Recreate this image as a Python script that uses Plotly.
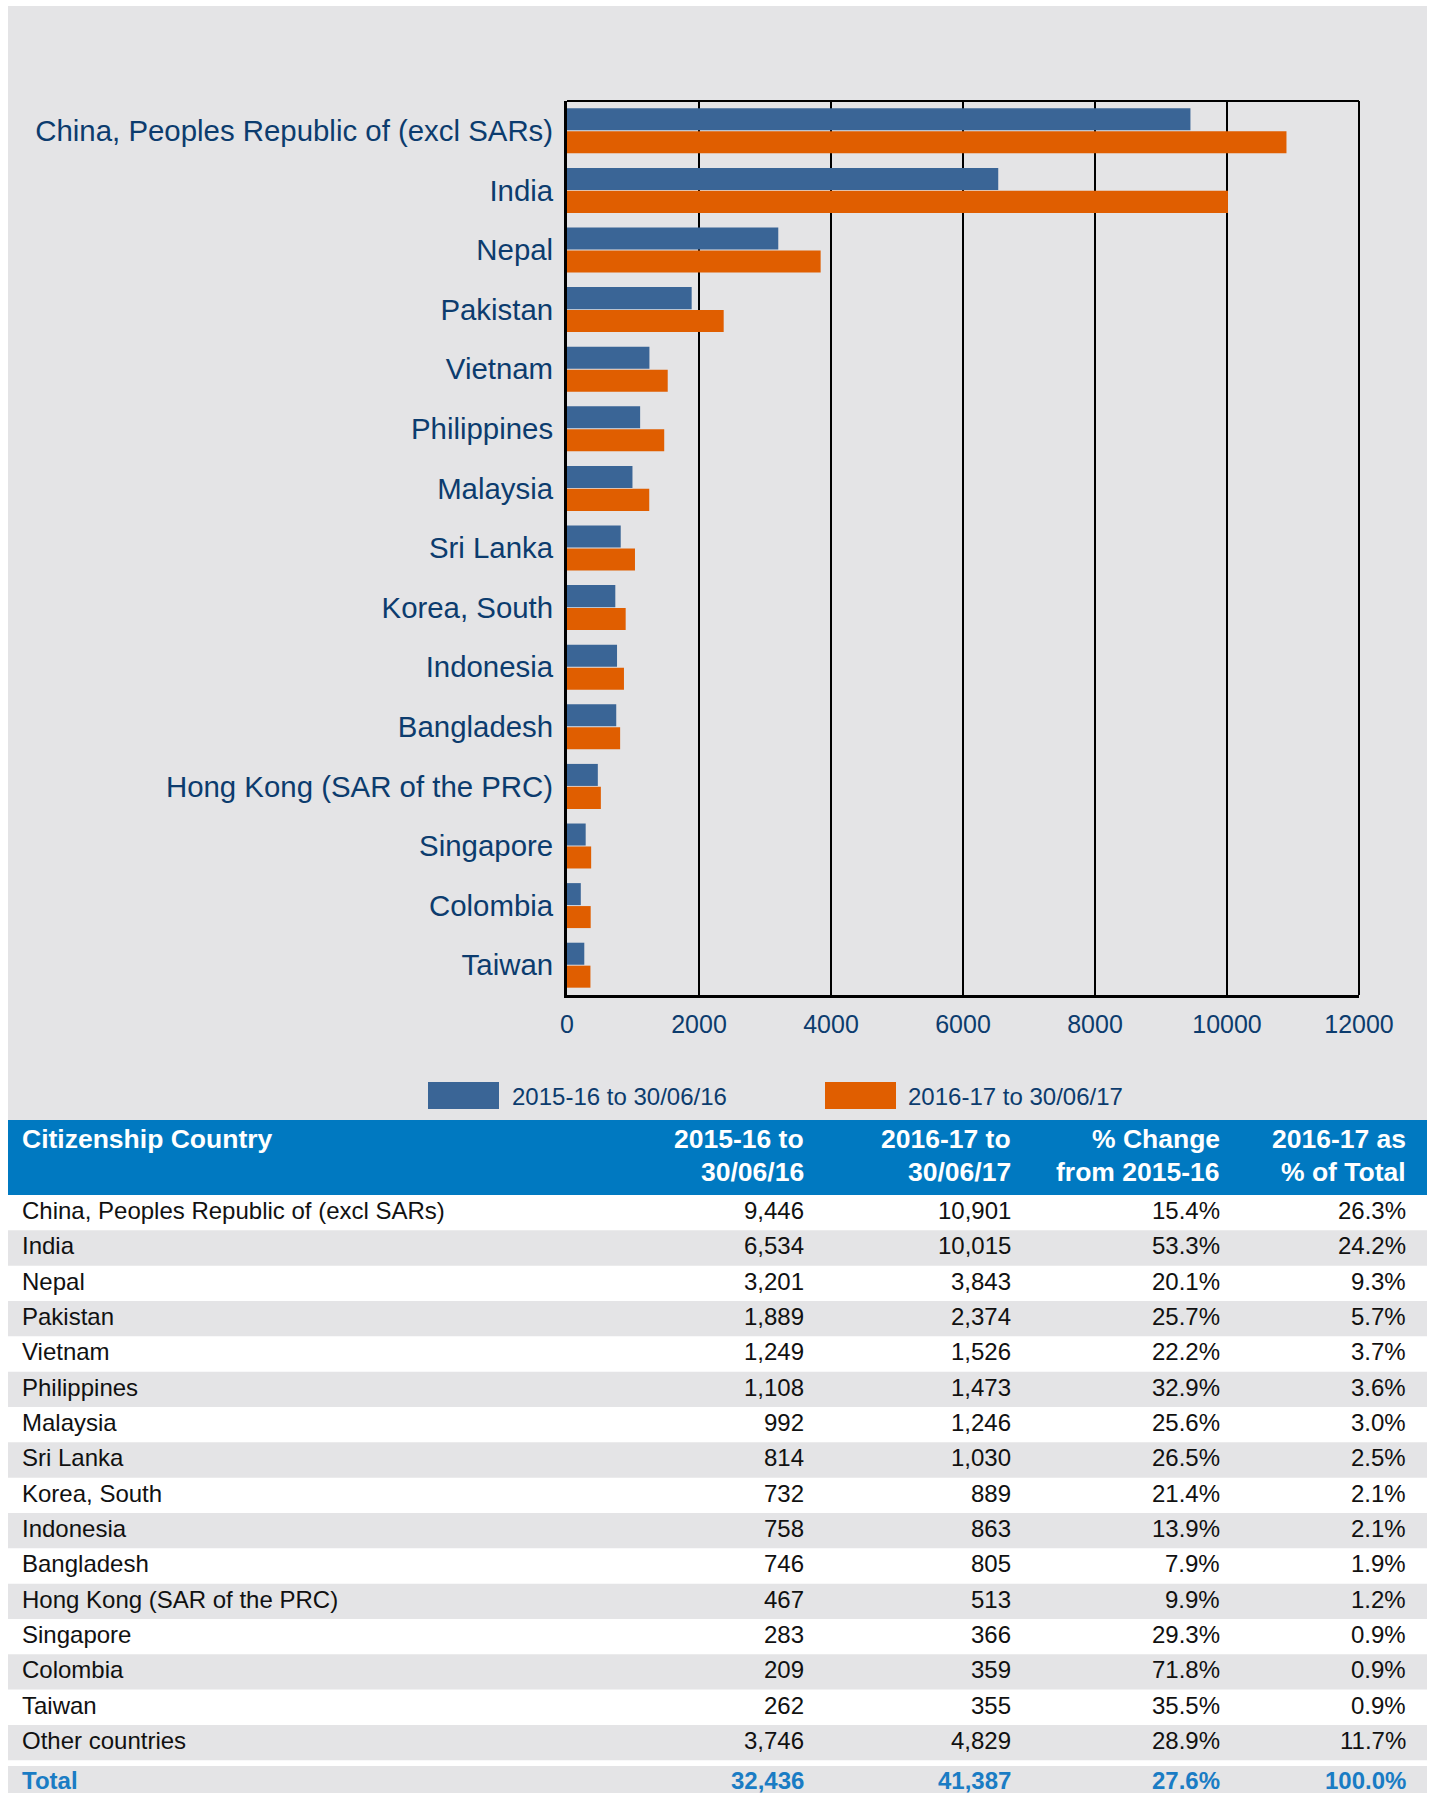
import plotly.graph_objects as go

# ---------------- data ----------------
countries = [
    "China, Peoples Republic of (excl SARs)", "India", "Nepal", "Pakistan", "Vietnam",
    "Philippines", "Malaysia", "Sri Lanka", "Korea, South", "Indonesia", "Bangladesh",
    "Hong Kong (SAR of the PRC)", "Singapore", "Colombia", "Taiwan",
]
v_1516 = [9446, 6534, 3201, 1889, 1249, 1108, 992, 814, 732, 758, 746, 467, 283, 209, 262]
v_1617 = [10901, 10015, 3843, 2374, 1526, 1473, 1246, 1030, 889, 863, 805, 513, 366, 359, 355]
pct_change = [15.4, 53.3, 20.1, 25.7, 22.2, 32.9, 25.6, 26.5, 21.4, 13.9, 7.9, 9.9, 29.3, 71.8, 35.5]
pct_total = [26.3, 24.2, 9.3, 5.7, 3.7, 3.6, 3.0, 2.5, 2.1, 2.1, 1.9, 1.2, 0.9, 0.9, 0.9]
other_row = ["Other countries", 3746, 4829, 28.9, 11.7]
total_row = ["Total", 32436, 41387, 27.6, 100.0]
series_names = ["2015-16 to 30/06/16", "2016-17 to 30/06/17"]
header_cols = [["Citizenship Country", ""], ["2015-16 to", "30/06/16"], ["2016-17 to", "30/06/17"],
               ["% Change", "from 2015-16"], ["2016-17 as", "% of Total"]]
x_ticks = [0, 2000, 4000, 6000, 8000, 10000, 12000]

# ---------------- style ----------------
W, H = 1430, 1793
PL, PR, PT, PB = 567, 1359, 101, 995
BLUE = "#3a6596"
ORANGE = "#e05e00"
NAVY = "#0c3c6e"
PANEL = "#e4e4e6"
HEAD = "#0079c1"
TOTAL_C = "#1a7cc4"
FONT = "Liberation Sans, Arial, sans-serif"


def px(x):
    return (x - PL) / (PR - PL)


def py(y):
    return (PB - y) / (PB - PT)


fig = go.Figure()
fig.add_trace(go.Bar(y=countries, x=v_1516, orientation="h", name=series_names[0],
                     marker=dict(color=BLUE, line=dict(width=0))))
fig.add_trace(go.Bar(y=countries, x=v_1617, orientation="h", name=series_names[1],
                     marker=dict(color=ORANGE, line=dict(width=0))))

shapes = []
annotations = []

# gray panel behind chart
shapes.append(dict(type="rect", xref="paper", yref="paper", x0=px(8), x1=px(1427), y0=py(1120), y1=py(6),
                   fillcolor=PANEL, line=dict(width=0), layer="below"))
# top and right frame lines
shapes.append(dict(type="line", xref="paper", yref="paper", x0=0, x1=1, y0=1, y1=1,
                   line=dict(color="black", width=2)))
shapes.append(dict(type="line", xref="paper", yref="paper", x0=1, x1=1, y0=0, y1=1,
                   line=dict(color="black", width=2)))

# custom legend
leg = [(428, 499, 512, BLUE, series_names[0]), (825, 896, 908, ORANGE, series_names[1])]
for x0, x1, tx, col, name in leg:
    shapes.append(dict(type="rect", xref="paper", yref="paper", x0=px(x0), x1=px(x1), y0=py(1109), y1=py(1082),
                       fillcolor=col, line=dict(width=0)))
    annotations.append(dict(xref="paper", yref="paper", x=px(tx - 2), y=py(1096), text=name, showarrow=False,
                            xanchor="left", yanchor="middle", font=dict(size=24, color=NAVY, family=FONT)))

# ---------------- table ----------------
TL, TR = 8, 1427
HEAD_TOP, HEAD_BOT = 1120, 1195
ROW_H = 35.33
col_right = [None, 804, 1011, 1220, 1406]
col_left = 23

shapes.append(dict(type="rect", xref="paper", yref="paper", x0=px(TL), x1=px(TR), y0=py(HEAD_BOT), y1=py(HEAD_TOP),
                   fillcolor=HEAD, line=dict(width=0)))
line_y = [1139, 1172]
for ci, lines in enumerate(header_cols):
    for li, txt in enumerate(lines):
        if not txt:
            continue
        if ci == 0:
            annotations.append(dict(xref="paper", yref="paper", x=px(col_left - 3), y=py(line_y[li]), text="<b>%s</b>" % txt,
                                    showarrow=False, xanchor="left", yanchor="middle",
                                    font=dict(size=26.5, color="white", family=FONT)))
        else:
            annotations.append(dict(xref="paper", yref="paper", x=px(col_right[ci] + 2), y=py(line_y[li]), text="<b>%s</b>" % txt,
                                    showarrow=False, xanchor="right", yanchor="middle",
                                    font=dict(size=26.5, color="white", family=FONT)))

rows = [[c, a, b, p, t] for c, a, b, p, t in zip(countries, v_1516, v_1617, pct_change, pct_total)]
rows.append(other_row)
rows.append(total_row)

for ri, row in enumerate(rows):
    is_total = ri == len(rows) - 1
    if is_total:
        top = 1766
    else:
        top = HEAD_BOT + ROW_H * ri
    bot = top + ROW_H
    if ri % 2 == 1 or is_total:
        shapes.append(dict(type="rect", xref="paper", yref="paper", x0=px(TL), x1=px(TR), y0=py(bot), y1=py(top),
                           fillcolor=PANEL, line=dict(width=0), layer="below"))
    cy = 1780 if is_total else (top + bot) / 2 - 2
    name, a, b, p, t = row
    cells = [name, f"{a:,}", f"{b:,}", f"{p:.1f}%", f"{t:.1f}%"]
    color = TOTAL_C if is_total else "#111111"
    for ci, txt in enumerate(cells):
        txt_f = "<b>%s</b>" % txt if is_total else txt
        if ci == 0:
            annotations.append(dict(xref="paper", yref="paper", x=px(col_left - 3), y=py(cy), text=txt_f,
                                    showarrow=False, xanchor="left", yanchor="middle",
                                    font=dict(size=24, color=color, family=FONT)))
        else:
            annotations.append(dict(xref="paper", yref="paper", x=px(col_right[ci] + 2), y=py(cy), text=txt_f,
                                    showarrow=False, xanchor="right", yanchor="middle",
                                    font=dict(size=24, color=color, family=FONT)))

fig.update_layout(
    width=W, height=H,
    margin=dict(l=PL, r=W - PR, t=PT, b=H - PB, pad=0),
    paper_bgcolor="white",
    plot_bgcolor="rgba(0,0,0,0)",
    barmode="group",
    bargap=0.23,
    bargroupgap=0.04,
    showlegend=False,
    font=dict(family=FONT, color=NAVY),
    shapes=shapes,
    annotations=annotations,
    xaxis=dict(range=[0, 12000], tickvals=x_ticks, ticktext=[str(v) for v in x_ticks],
               showgrid=True, gridcolor="black", gridwidth=1.5, zeroline=False,
               showline=True, linecolor="black", linewidth=3,
               ticks="", ticklabelstandoff=5,
               tickfont=dict(size=25, color=NAVY, family=FONT), fixedrange=True),
    yaxis=dict(range=[14.5, -0.5], type="category", showgrid=False, zeroline=False,
               showline=True, linecolor="black", linewidth=3,
               ticks="", ticklabelstandoff=5,
               tickfont=dict(size=29.4, color=NAVY, family=FONT), fixedrange=True),
)

fig.write_html("out.html", config={"displayModeBar": False},
               post_script="document.body.style.margin='0';")
